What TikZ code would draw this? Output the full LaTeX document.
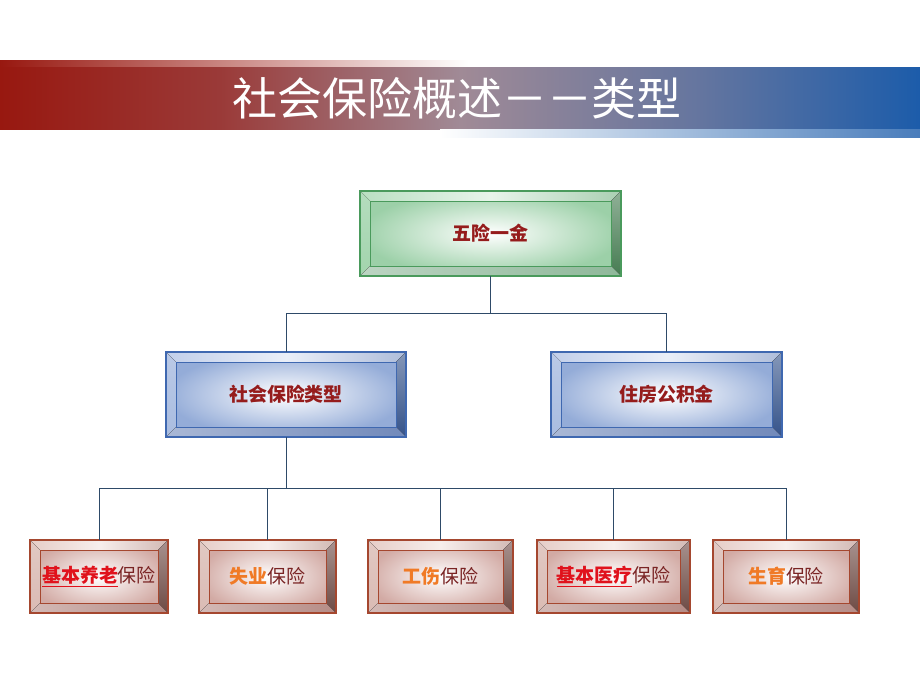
\documentclass[tikz,border=0pt]{standalone}
\usepackage{fontspec}
\setmainfont{Noto Sans CJK SC}
\usepackage{tikz}
\usetikzlibrary{calc,positioning}
\usepackage{xcolor}

\definecolor{bandred}{HTML}{981810}
\definecolor{bandmid}{HTML}{A08A96}
\definecolor{bandblue}{HTML}{1C5CAA}
\definecolor{titlered}{HTML}{951C1C}
\definecolor{plainred}{HTML}{7A2424}
\definecolor{hotred}{HTML}{E0121C}
\definecolor{orangetxt}{HTML}{F07A26}
\definecolor{linecol}{HTML}{2E4A68}
% green box
\definecolor{gedge}{HTML}{4A9A5C}
\definecolor{gface}{HTML}{9CD0A8}
\definecolor{gtop}{HTML}{C4E4CB}
\definecolor{gleft}{HTML}{A2D4AD}
\definecolor{gright}{HTML}{467C52}
\definecolor{gbottom}{HTML}{8FB89A}
% blue box
\definecolor{bedge}{HTML}{3F68B0}
\definecolor{bface}{HTML}{94ACD8}
\definecolor{btop}{HTML}{CCD7EE}
\definecolor{bleft}{HTML}{A9BCE0}
\definecolor{bright}{HTML}{35538A}
\definecolor{bbottom}{HTML}{7189BA}
% red box
\definecolor{redge}{HTML}{A5472F}
\definecolor{rface}{HTML}{D2AAA4}
\definecolor{rtop}{HTML}{EBD5D0}
\definecolor{rleft}{HTML}{DABBB4}
\definecolor{rright}{HTML}{6E4A44}
\definecolor{rbottom}{HTML}{B68C86}

\pgfdeclarehorizontalshading{bannershade}{100bp}{color(0bp)=(bandred); color(25bp)=(bandred); color(37bp)=(bandred!70!bandmid); color(50bp)=(bandmid); color(63bp)=(bandmid!55!bandblue); color(75bp)=(bandblue); color(100bp)=(bandblue)}

% bevel facets round a box node
\newcommand{\bevel}[2]{%
  \fill[left color=#2top!70!#2left, right color=#2top!80!#2right, middle color=#2top!40!white]
    (#1.north west) -- (#1.north east) -- ($(#1.north east)+(-10,10)$) -- ($(#1.north west)+(10,10)$) -- cycle;
  \fill[top color=#2left!80!white, bottom color=#2left]
    (#1.north west) -- ($(#1.north west)+(10,10)$) -- ($(#1.south west)+(10,-10)$) -- (#1.south west) -- cycle;
  \fill[top color=#2right!60!white, bottom color=#2right]
    (#1.north east) -- (#1.south east) -- ($(#1.south east)+(-10,-10)$) -- ($(#1.north east)+(-10,10)$) -- cycle;
  \fill[left color=#2bottom!60!white, right color=#2bottom]
    (#1.south west) -- ($(#1.south west)+(10,-10)$) -- ($(#1.south east)+(-10,-10)$) -- (#1.south east) -- cycle;
  \draw[#2edge, line width=0.5pt] ($(#1.north west)+(10,10)$) rectangle ($(#1.south east)+(-10,-10)$);
  \draw[#2edge, line width=0.8pt] (#1.north west) rectangle (#1.south east);
}

\begin{document}
\begin{tikzpicture}[
    x=0.025cm, y=-0.025cm,
    boxsize/.style 2 args={minimum width=#1*0.025cm, minimum height=#2*0.025cm},
    basebox/.style={rectangle, inner sep=0pt, outer sep=0pt, font=\fontsize{13.5}{16}\selectfont},
    greenbox/.style={basebox, inner color=white, outer color=gface, text=titlered, font=\fontsize{13.5}{16}\selectfont\bfseries},
    bluebox/.style={basebox, inner color=white, outer color=bface, text=titlered, font=\fontsize{13.5}{16}\selectfont\bfseries},
    redbox/.style={basebox, inner color=white, outer color=rface, text=plainred},
    conn/.style={draw=linecol, line width=0.6pt}
]
    \useasboundingbox (0,0) rectangle (920,690);

    % title banner
    \shade[left color=bandred, right color=white] (0,61) rectangle (470,68);
    \shade[shading=bannershade] (0,68) rectangle (920,129);
    \shade[left color=white, right color=bandblue!80] (440,129) rectangle (920,137);
    \node[text=white, font=\fontsize{32}{36}\selectfont] (title) at (457,98) {社会保险概述－－类型};

    % top level
    \node[greenbox, boxsize={261}{85}] (top) at (490.5,233.5) {五险一金};
    \bevel{top}{g}

    % second level
    \node[bluebox, boxsize={240}{85}] (social) at (286,394.5) {社会保险类型};
    \bevel{social}{b}
    \node[bluebox, boxsize={231}{85}] (fund) at (666.5,394.5) {住房公积金};
    \bevel{fund}{b}

    % third level
    \node[redbox, boxsize={138}{73}] (pension) at (99,576.5)
        {{\bfseries\color{hotred}\underline{基本养老}}保险};
    \bevel{pension}{r}
    \node[redbox, boxsize={137}{73}] (unemploy) at (267.5,576.5)
        {{\bfseries\color{orangetxt}失业}保险};
    \bevel{unemploy}{r}
    \node[redbox, boxsize={145}{73}] (injury) at (440.5,576.5)
        {{\bfseries\color{orangetxt}工伤}保险};
    \bevel{injury}{r}
    \node[redbox, boxsize={153}{73}] (medical) at (613.5,576.5)
        {{\bfseries\color{hotred}\underline{基本医疗}}保险};
    \bevel{medical}{r}
    \node[redbox, boxsize={146}{73}] (birth) at (786,576.5)
        {{\bfseries\color{orangetxt}生育}保险};
    \bevel{birth}{r}

    % connectors
    \coordinate (split1) at (490.5,313);
    \draw[conn] (top.south) -- (split1);
    \draw[conn] (split1) -| (social.north);
    \draw[conn] (split1) -| (fund.north);

    \coordinate (split2) at (286,488);
    \draw[conn] (social.south) -- (split2);
    \foreach \b in {pension,unemploy,injury,medical,birth}
        \draw[conn] (split2) -| (\b.north);
\end{tikzpicture}
\end{document}
